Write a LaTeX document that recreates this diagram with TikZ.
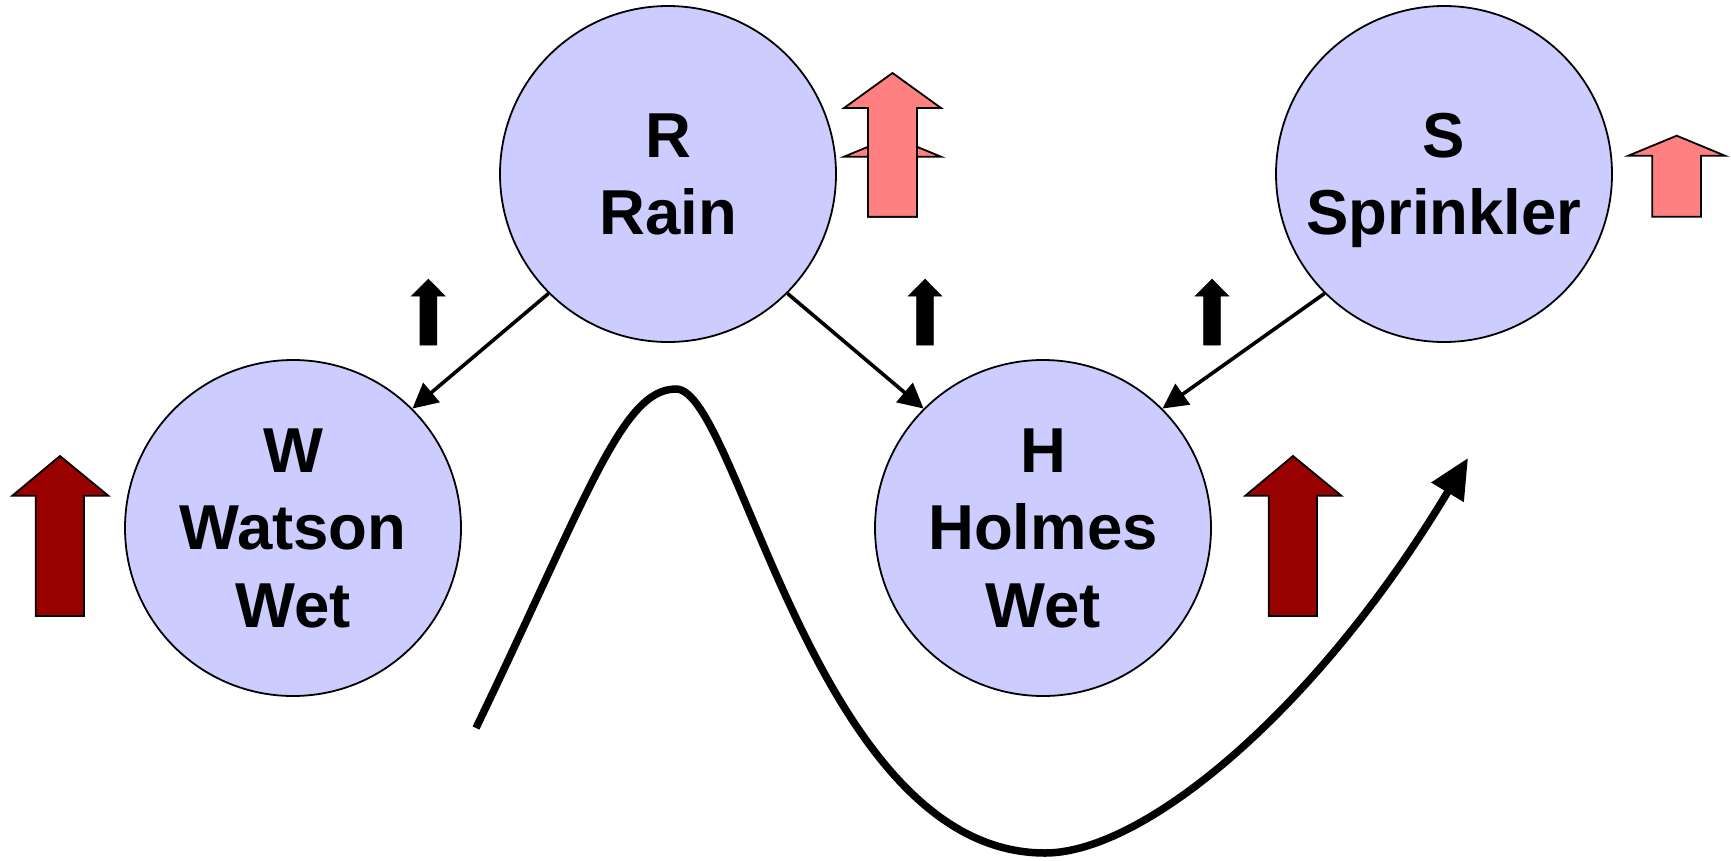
\documentclass[tikz,border=0pt]{standalone}
\usepackage{fontspec}
\setmainfont{Liberation Sans}
\usetikzlibrary{arrows.meta}
\definecolor{nodefill}{HTML}{CCCCFF}
\definecolor{pinkarr}{HTML}{FF8080}
\definecolor{darkarr}{HTML}{990000}
\begin{document}
\begin{tikzpicture}[x=1pt,y=-1pt,
  bnode/.style={circle, draw=black, line width=1.8pt, fill=nodefill, minimum size=336pt, inner sep=0pt, align=center, font=\fontsize{63.5}{77.5}\selectfont\bfseries, text depth=0pt},
  edge/.style={line width=3.6pt, -{Triangle[length=25pt,width=25pt]}},
  blockarr/.style={draw=black, line width=1.8pt, line join=miter},
  pinkblock/.style={blockarr, fill=pinkarr},
  darkblock/.style={blockarr, fill=darkarr},
  blackblock/.style={blockarr, line width=0.8pt, fill=black},
  bigcurve/.style={line width=7.5pt, -{Triangle[length=40pt,width=36pt]}}
]
\useasboundingbox (0,0) rectangle (1731,860);

% nodes
\node[bnode] (R) at (668,174) {R\\Rain};
\node[bnode] (S) at (1444,174) {S\\Sprinkler};
\node[bnode] (W) at (293,528) {W\\Watson\\Wet};
\node[bnode] (H) at (1043,528) {H\\Holmes\\Wet};

% edges
\draw[edge] (R.225) -- (W.45);
\draw[edge] (R.315) -- (H.135);
\draw[edge] (S.225) -- (H.45);

% pink arrows
\draw[pinkblock] (868,216.7) -- (868,156.7) -- (844,156.7) -- (892.5,136.7) -- (941,156.7) -- (917,156.7) -- (917,216.7) -- cycle;
\draw[pinkblock] (868,216.7) -- (868,108) -- (844,108) -- (892.5,73) -- (941,108) -- (917,108) -- (917,216.7) -- cycle;
\draw[pinkblock] (1652.3,216.7) -- (1652.3,155.7) -- (1628.3,155.7) -- (1676.7,135.7) -- (1725,155.7) -- (1701,155.7) -- (1701,216.7) -- cycle;

% dark red arrows
\draw[darkblock] (35.7,616) -- (35.7,495.7) -- (12.3,495.7) -- (60,456) -- (108.3,495.7) -- (84,495.7) -- (84,616) -- cycle;
\draw[darkblock] (1268.7,616) -- (1268.7,495.7) -- (1245.3,495.7) -- (1293,456) -- (1341.3,495.7) -- (1317,495.7) -- (1317,616) -- cycle;

% small black arrows
\foreach \cx in {428.3,925,1212}{
  \draw[blackblock] (\cx-8.3,345) -- (\cx-8.3,296) -- (\cx-16.6,296) -- (\cx,279.3) -- (\cx+16.6,296) -- (\cx+8.3,296) -- (\cx+8.3,345) -- cycle;
}

% big curve
\coordinate (cs) at (476,728);
\coordinate (ce) at (1468,458);
\draw[bigcurve] (cs) .. controls (588,495) and (622,389) .. (676,389)
  .. controls (738,389) and (815,853) .. (1045,853)
  .. controls (1145,853) and (1318,708.5) .. (ce);
\end{tikzpicture}
\end{document}
